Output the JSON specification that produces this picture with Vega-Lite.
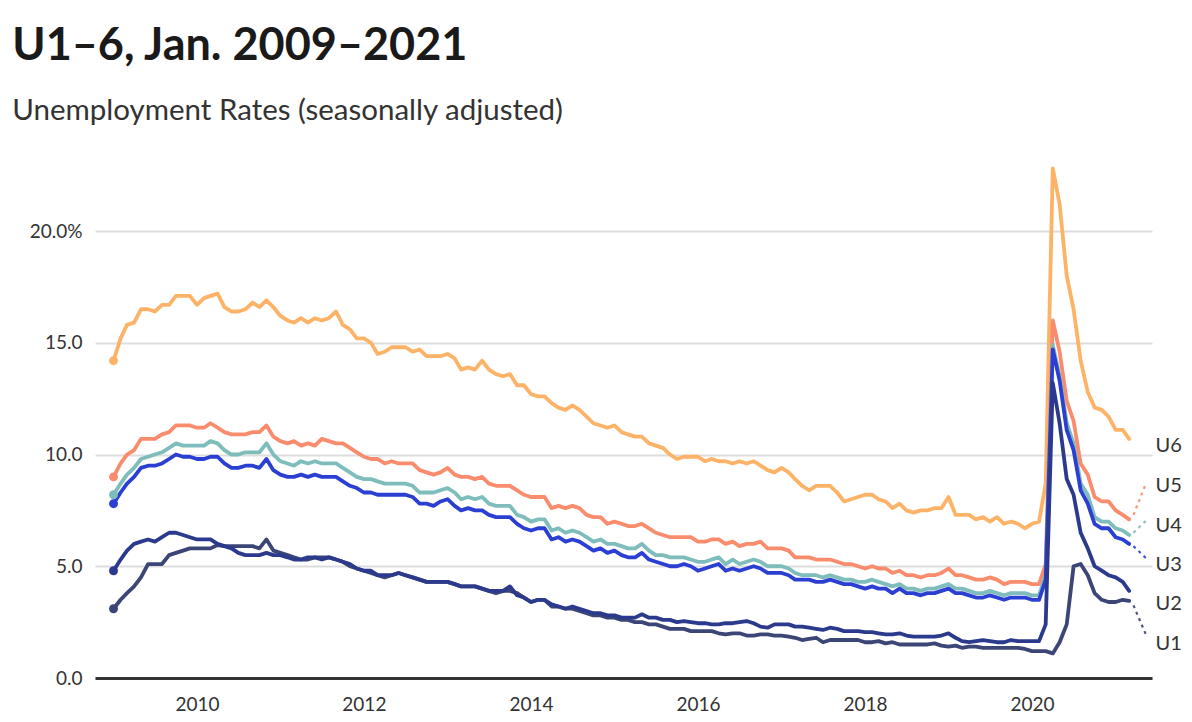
{
  "$schema": "https://vega.github.io/schema/vega-lite/v6.json",
  "width": 1057,
  "height": 514,
  "autosize": {"type": "none"},
  "padding": {"left": 95, "top": 164, "right": 40, "bottom": 44},
  "background": "white",
  "title": {
    "text": "U1–6, Jan. 2009–2021",
    "subtitle": "Unemployment Rates (seasonally adjusted)",
    "anchor": "start",
    "frame": "bounds",
    "dx": -17,
    "font": "Lato",
    "fontSize": 45,
    "fontWeight": "bold",
    "color": "#1a1a1a",
    "subtitleFont": "Lato",
    "subtitleFontSize": 29.5,
    "subtitleColor": "#333333",
    "subtitlePadding": 28,
    "offset": 39
  },
  "config": {
    "view": {"stroke": null},
    "axis": {"labelFont": "Lato", "labelFontSize": 19, "labelColor": "#333333", "titleFont": "Lato"}
  },
  "datasets": {
    "series": [
      {"s":"U6","d":"2009-01","v":14.2},{"s":"U6","d":"2009-02","v":15.2},{"s":"U6","d":"2009-03","v":15.8},{"s":"U6","d":"2009-04","v":15.9},{"s":"U6","d":"2009-05","v":16.5},{"s":"U6","d":"2009-06","v":16.5},{"s":"U6","d":"2009-07","v":16.4},{"s":"U6","d":"2009-08","v":16.7},{"s":"U6","d":"2009-09","v":16.7},{"s":"U6","d":"2009-10","v":17.1},{"s":"U6","d":"2009-11","v":17.1},{"s":"U6","d":"2009-12","v":17.1},
      {"s":"U6","d":"2010-01","v":16.7},{"s":"U6","d":"2010-02","v":17.0},{"s":"U6","d":"2010-03","v":17.1},{"s":"U6","d":"2010-04","v":17.2},{"s":"U6","d":"2010-05","v":16.6},{"s":"U6","d":"2010-06","v":16.4},{"s":"U6","d":"2010-07","v":16.4},{"s":"U6","d":"2010-08","v":16.5},{"s":"U6","d":"2010-09","v":16.8},{"s":"U6","d":"2010-10","v":16.6},{"s":"U6","d":"2010-11","v":16.9},{"s":"U6","d":"2010-12","v":16.6},
      {"s":"U6","d":"2011-01","v":16.2},{"s":"U6","d":"2011-02","v":16.0},{"s":"U6","d":"2011-03","v":15.9},{"s":"U6","d":"2011-04","v":16.1},{"s":"U6","d":"2011-05","v":15.9},{"s":"U6","d":"2011-06","v":16.1},{"s":"U6","d":"2011-07","v":16.0},{"s":"U6","d":"2011-08","v":16.1},{"s":"U6","d":"2011-09","v":16.4},{"s":"U6","d":"2011-10","v":15.8},{"s":"U6","d":"2011-11","v":15.6},{"s":"U6","d":"2011-12","v":15.2},
      {"s":"U6","d":"2012-01","v":15.2},{"s":"U6","d":"2012-02","v":15.0},{"s":"U6","d":"2012-03","v":14.5},{"s":"U6","d":"2012-04","v":14.6},{"s":"U6","d":"2012-05","v":14.8},{"s":"U6","d":"2012-06","v":14.8},{"s":"U6","d":"2012-07","v":14.8},{"s":"U6","d":"2012-08","v":14.6},{"s":"U6","d":"2012-09","v":14.7},{"s":"U6","d":"2012-10","v":14.4},{"s":"U6","d":"2012-11","v":14.4},{"s":"U6","d":"2012-12","v":14.4},
      {"s":"U6","d":"2013-01","v":14.5},{"s":"U6","d":"2013-02","v":14.3},{"s":"U6","d":"2013-03","v":13.8},{"s":"U6","d":"2013-04","v":13.9},{"s":"U6","d":"2013-05","v":13.8},{"s":"U6","d":"2013-06","v":14.2},{"s":"U6","d":"2013-07","v":13.8},{"s":"U6","d":"2013-08","v":13.6},{"s":"U6","d":"2013-09","v":13.5},{"s":"U6","d":"2013-10","v":13.6},{"s":"U6","d":"2013-11","v":13.1},{"s":"U6","d":"2013-12","v":13.1},
      {"s":"U6","d":"2014-01","v":12.7},{"s":"U6","d":"2014-02","v":12.6},{"s":"U6","d":"2014-03","v":12.6},{"s":"U6","d":"2014-04","v":12.3},{"s":"U6","d":"2014-05","v":12.1},{"s":"U6","d":"2014-06","v":12.0},{"s":"U6","d":"2014-07","v":12.2},{"s":"U6","d":"2014-08","v":12.0},{"s":"U6","d":"2014-09","v":11.7},{"s":"U6","d":"2014-10","v":11.4},{"s":"U6","d":"2014-11","v":11.3},{"s":"U6","d":"2014-12","v":11.2},
      {"s":"U6","d":"2015-01","v":11.3},{"s":"U6","d":"2015-02","v":11.0},{"s":"U6","d":"2015-03","v":10.9},{"s":"U6","d":"2015-04","v":10.8},{"s":"U6","d":"2015-05","v":10.8},{"s":"U6","d":"2015-06","v":10.5},{"s":"U6","d":"2015-07","v":10.4},{"s":"U6","d":"2015-08","v":10.3},{"s":"U6","d":"2015-09","v":10.0},{"s":"U6","d":"2015-10","v":9.8},{"s":"U6","d":"2015-11","v":9.9},{"s":"U6","d":"2015-12","v":9.9},
      {"s":"U6","d":"2016-01","v":9.9},{"s":"U6","d":"2016-02","v":9.7},{"s":"U6","d":"2016-03","v":9.8},{"s":"U6","d":"2016-04","v":9.7},{"s":"U6","d":"2016-05","v":9.7},{"s":"U6","d":"2016-06","v":9.6},{"s":"U6","d":"2016-07","v":9.7},{"s":"U6","d":"2016-08","v":9.6},{"s":"U6","d":"2016-09","v":9.7},{"s":"U6","d":"2016-10","v":9.5},{"s":"U6","d":"2016-11","v":9.3},{"s":"U6","d":"2016-12","v":9.2},
      {"s":"U6","d":"2017-01","v":9.4},{"s":"U6","d":"2017-02","v":9.2},{"s":"U6","d":"2017-03","v":8.9},{"s":"U6","d":"2017-04","v":8.6},{"s":"U6","d":"2017-05","v":8.4},{"s":"U6","d":"2017-06","v":8.6},{"s":"U6","d":"2017-07","v":8.6},{"s":"U6","d":"2017-08","v":8.6},{"s":"U6","d":"2017-09","v":8.3},{"s":"U6","d":"2017-10","v":7.9},{"s":"U6","d":"2017-11","v":8.0},{"s":"U6","d":"2017-12","v":8.1},
      {"s":"U6","d":"2018-01","v":8.2},{"s":"U6","d":"2018-02","v":8.2},{"s":"U6","d":"2018-03","v":8.0},{"s":"U6","d":"2018-04","v":7.9},{"s":"U6","d":"2018-05","v":7.6},{"s":"U6","d":"2018-06","v":7.8},{"s":"U6","d":"2018-07","v":7.5},{"s":"U6","d":"2018-08","v":7.4},{"s":"U6","d":"2018-09","v":7.5},{"s":"U6","d":"2018-10","v":7.5},{"s":"U6","d":"2018-11","v":7.6},{"s":"U6","d":"2018-12","v":7.6},
      {"s":"U6","d":"2019-01","v":8.1},{"s":"U6","d":"2019-02","v":7.3},{"s":"U6","d":"2019-03","v":7.3},{"s":"U6","d":"2019-04","v":7.3},{"s":"U6","d":"2019-05","v":7.1},{"s":"U6","d":"2019-06","v":7.2},{"s":"U6","d":"2019-07","v":7.0},{"s":"U6","d":"2019-08","v":7.2},{"s":"U6","d":"2019-09","v":6.9},{"s":"U6","d":"2019-10","v":7.0},{"s":"U6","d":"2019-11","v":6.9},{"s":"U6","d":"2019-12","v":6.7},
      {"s":"U6","d":"2020-01","v":6.9},{"s":"U6","d":"2020-02","v":7.0},{"s":"U6","d":"2020-03","v":8.7},{"s":"U6","d":"2020-04","v":22.8},{"s":"U6","d":"2020-05","v":21.2},{"s":"U6","d":"2020-06","v":18.0},{"s":"U6","d":"2020-07","v":16.5},{"s":"U6","d":"2020-08","v":14.2},{"s":"U6","d":"2020-09","v":12.8},{"s":"U6","d":"2020-10","v":12.1},{"s":"U6","d":"2020-11","v":12.0},{"s":"U6","d":"2020-12","v":11.7},
      {"s":"U6","d":"2021-01","v":11.1},{"s":"U6","d":"2021-02","v":11.1},{"s":"U6","d":"2021-03","v":10.7},

      {"s":"U5","d":"2009-01","v":9.0},{"s":"U5","d":"2009-02","v":9.6},{"s":"U5","d":"2009-03","v":10.0},{"s":"U5","d":"2009-04","v":10.2},{"s":"U5","d":"2009-05","v":10.7},{"s":"U5","d":"2009-06","v":10.7},{"s":"U5","d":"2009-07","v":10.7},{"s":"U5","d":"2009-08","v":10.9},{"s":"U5","d":"2009-09","v":11.0},{"s":"U5","d":"2009-10","v":11.3},{"s":"U5","d":"2009-11","v":11.3},{"s":"U5","d":"2009-12","v":11.3},
      {"s":"U5","d":"2010-01","v":11.2},{"s":"U5","d":"2010-02","v":11.2},{"s":"U5","d":"2010-03","v":11.4},{"s":"U5","d":"2010-04","v":11.2},{"s":"U5","d":"2010-05","v":11.0},{"s":"U5","d":"2010-06","v":10.9},{"s":"U5","d":"2010-07","v":10.9},{"s":"U5","d":"2010-08","v":10.9},{"s":"U5","d":"2010-09","v":11.0},{"s":"U5","d":"2010-10","v":11.0},{"s":"U5","d":"2010-11","v":11.3},{"s":"U5","d":"2010-12","v":10.8},
      {"s":"U5","d":"2011-01","v":10.6},{"s":"U5","d":"2011-02","v":10.5},{"s":"U5","d":"2011-03","v":10.6},{"s":"U5","d":"2011-04","v":10.4},{"s":"U5","d":"2011-05","v":10.5},{"s":"U5","d":"2011-06","v":10.4},{"s":"U5","d":"2011-07","v":10.7},{"s":"U5","d":"2011-08","v":10.6},{"s":"U5","d":"2011-09","v":10.5},{"s":"U5","d":"2011-10","v":10.5},{"s":"U5","d":"2011-11","v":10.3},{"s":"U5","d":"2011-12","v":10.1},
      {"s":"U5","d":"2012-01","v":9.9},{"s":"U5","d":"2012-02","v":9.8},{"s":"U5","d":"2012-03","v":9.8},{"s":"U5","d":"2012-04","v":9.6},{"s":"U5","d":"2012-05","v":9.7},{"s":"U5","d":"2012-06","v":9.6},{"s":"U5","d":"2012-07","v":9.6},{"s":"U5","d":"2012-08","v":9.6},{"s":"U5","d":"2012-09","v":9.3},{"s":"U5","d":"2012-10","v":9.2},{"s":"U5","d":"2012-11","v":9.1},{"s":"U5","d":"2012-12","v":9.2},
      {"s":"U5","d":"2013-01","v":9.4},{"s":"U5","d":"2013-02","v":9.1},{"s":"U5","d":"2013-03","v":9.0},{"s":"U5","d":"2013-04","v":9.0},{"s":"U5","d":"2013-05","v":8.9},{"s":"U5","d":"2013-06","v":9.0},{"s":"U5","d":"2013-07","v":8.7},{"s":"U5","d":"2013-08","v":8.6},{"s":"U5","d":"2013-09","v":8.6},{"s":"U5","d":"2013-10","v":8.6},{"s":"U5","d":"2013-11","v":8.4},{"s":"U5","d":"2013-12","v":8.2},
      {"s":"U5","d":"2014-01","v":8.1},{"s":"U5","d":"2014-02","v":8.1},{"s":"U5","d":"2014-03","v":8.1},{"s":"U5","d":"2014-04","v":7.6},{"s":"U5","d":"2014-05","v":7.7},{"s":"U5","d":"2014-06","v":7.6},{"s":"U5","d":"2014-07","v":7.7},{"s":"U5","d":"2014-08","v":7.6},{"s":"U5","d":"2014-09","v":7.3},{"s":"U5","d":"2014-10","v":7.2},{"s":"U5","d":"2014-11","v":7.2},{"s":"U5","d":"2014-12","v":6.9},
      {"s":"U5","d":"2015-01","v":7.0},{"s":"U5","d":"2015-02","v":6.9},{"s":"U5","d":"2015-03","v":6.8},{"s":"U5","d":"2015-04","v":6.8},{"s":"U5","d":"2015-05","v":6.9},{"s":"U5","d":"2015-06","v":6.7},{"s":"U5","d":"2015-07","v":6.5},{"s":"U5","d":"2015-08","v":6.4},{"s":"U5","d":"2015-09","v":6.3},{"s":"U5","d":"2015-10","v":6.3},{"s":"U5","d":"2015-11","v":6.3},{"s":"U5","d":"2015-12","v":6.3},
      {"s":"U5","d":"2016-01","v":6.1},{"s":"U5","d":"2016-02","v":6.1},{"s":"U5","d":"2016-03","v":6.2},{"s":"U5","d":"2016-04","v":6.2},{"s":"U5","d":"2016-05","v":6.0},{"s":"U5","d":"2016-06","v":6.1},{"s":"U5","d":"2016-07","v":5.9},{"s":"U5","d":"2016-08","v":6.0},{"s":"U5","d":"2016-09","v":6.0},{"s":"U5","d":"2016-10","v":6.1},{"s":"U5","d":"2016-11","v":5.8},{"s":"U5","d":"2016-12","v":5.8},
      {"s":"U5","d":"2017-01","v":5.8},{"s":"U5","d":"2017-02","v":5.7},{"s":"U5","d":"2017-03","v":5.4},{"s":"U5","d":"2017-04","v":5.4},{"s":"U5","d":"2017-05","v":5.4},{"s":"U5","d":"2017-06","v":5.3},{"s":"U5","d":"2017-07","v":5.3},{"s":"U5","d":"2017-08","v":5.3},{"s":"U5","d":"2017-09","v":5.2},{"s":"U5","d":"2017-10","v":5.1},{"s":"U5","d":"2017-11","v":5.1},{"s":"U5","d":"2017-12","v":5.0},
      {"s":"U5","d":"2018-01","v":4.9},{"s":"U5","d":"2018-02","v":5.0},{"s":"U5","d":"2018-03","v":4.9},{"s":"U5","d":"2018-04","v":4.9},{"s":"U5","d":"2018-05","v":4.7},{"s":"U5","d":"2018-06","v":4.8},{"s":"U5","d":"2018-07","v":4.6},{"s":"U5","d":"2018-08","v":4.6},{"s":"U5","d":"2018-09","v":4.5},{"s":"U5","d":"2018-10","v":4.6},{"s":"U5","d":"2018-11","v":4.6},{"s":"U5","d":"2018-12","v":4.7},
      {"s":"U5","d":"2019-01","v":4.9},{"s":"U5","d":"2019-02","v":4.6},{"s":"U5","d":"2019-03","v":4.6},{"s":"U5","d":"2019-04","v":4.5},{"s":"U5","d":"2019-05","v":4.4},{"s":"U5","d":"2019-06","v":4.4},{"s":"U5","d":"2019-07","v":4.5},{"s":"U5","d":"2019-08","v":4.4},{"s":"U5","d":"2019-09","v":4.2},{"s":"U5","d":"2019-10","v":4.3},{"s":"U5","d":"2019-11","v":4.3},{"s":"U5","d":"2019-12","v":4.3},
      {"s":"U5","d":"2020-01","v":4.2},{"s":"U5","d":"2020-02","v":4.2},{"s":"U5","d":"2020-03","v":5.1},{"s":"U5","d":"2020-04","v":16.0},{"s":"U5","d":"2020-05","v":14.6},{"s":"U5","d":"2020-06","v":12.4},{"s":"U5","d":"2020-07","v":11.5},{"s":"U5","d":"2020-08","v":9.6},{"s":"U5","d":"2020-09","v":9.1},{"s":"U5","d":"2020-10","v":8.1},{"s":"U5","d":"2020-11","v":7.9},{"s":"U5","d":"2020-12","v":7.9},
      {"s":"U5","d":"2021-01","v":7.5},{"s":"U5","d":"2021-02","v":7.3},{"s":"U5","d":"2021-03","v":7.1},

      {"s":"U4","d":"2009-01","v":8.2},{"s":"U4","d":"2009-02","v":8.7},{"s":"U4","d":"2009-03","v":9.1},{"s":"U4","d":"2009-04","v":9.4},{"s":"U4","d":"2009-05","v":9.8},{"s":"U4","d":"2009-06","v":9.9},{"s":"U4","d":"2009-07","v":10.0},{"s":"U4","d":"2009-08","v":10.1},{"s":"U4","d":"2009-09","v":10.3},{"s":"U4","d":"2009-10","v":10.5},{"s":"U4","d":"2009-11","v":10.4},{"s":"U4","d":"2009-12","v":10.4},
      {"s":"U4","d":"2010-01","v":10.4},{"s":"U4","d":"2010-02","v":10.4},{"s":"U4","d":"2010-03","v":10.6},{"s":"U4","d":"2010-04","v":10.5},{"s":"U4","d":"2010-05","v":10.2},{"s":"U4","d":"2010-06","v":10.0},{"s":"U4","d":"2010-07","v":10.0},{"s":"U4","d":"2010-08","v":10.1},{"s":"U4","d":"2010-09","v":10.1},{"s":"U4","d":"2010-10","v":10.1},{"s":"U4","d":"2010-11","v":10.5},{"s":"U4","d":"2010-12","v":10.0},
      {"s":"U4","d":"2011-01","v":9.7},{"s":"U4","d":"2011-02","v":9.6},{"s":"U4","d":"2011-03","v":9.5},{"s":"U4","d":"2011-04","v":9.7},{"s":"U4","d":"2011-05","v":9.6},{"s":"U4","d":"2011-06","v":9.7},{"s":"U4","d":"2011-07","v":9.6},{"s":"U4","d":"2011-08","v":9.6},{"s":"U4","d":"2011-09","v":9.6},{"s":"U4","d":"2011-10","v":9.4},{"s":"U4","d":"2011-11","v":9.2},{"s":"U4","d":"2011-12","v":9.0},
      {"s":"U4","d":"2012-01","v":8.9},{"s":"U4","d":"2012-02","v":8.9},{"s":"U4","d":"2012-03","v":8.8},{"s":"U4","d":"2012-04","v":8.7},{"s":"U4","d":"2012-05","v":8.7},{"s":"U4","d":"2012-06","v":8.7},{"s":"U4","d":"2012-07","v":8.7},{"s":"U4","d":"2012-08","v":8.6},{"s":"U4","d":"2012-09","v":8.3},{"s":"U4","d":"2012-10","v":8.3},{"s":"U4","d":"2012-11","v":8.3},{"s":"U4","d":"2012-12","v":8.4},
      {"s":"U4","d":"2013-01","v":8.5},{"s":"U4","d":"2013-02","v":8.3},{"s":"U4","d":"2013-03","v":8.0},{"s":"U4","d":"2013-04","v":8.1},{"s":"U4","d":"2013-05","v":8.0},{"s":"U4","d":"2013-06","v":8.1},{"s":"U4","d":"2013-07","v":7.8},{"s":"U4","d":"2013-08","v":7.7},{"s":"U4","d":"2013-09","v":7.7},{"s":"U4","d":"2013-10","v":7.7},{"s":"U4","d":"2013-11","v":7.3},{"s":"U4","d":"2013-12","v":7.2},
      {"s":"U4","d":"2014-01","v":7.0},{"s":"U4","d":"2014-02","v":7.1},{"s":"U4","d":"2014-03","v":7.1},{"s":"U4","d":"2014-04","v":6.6},{"s":"U4","d":"2014-05","v":6.7},{"s":"U4","d":"2014-06","v":6.5},{"s":"U4","d":"2014-07","v":6.6},{"s":"U4","d":"2014-08","v":6.5},{"s":"U4","d":"2014-09","v":6.3},{"s":"U4","d":"2014-10","v":6.1},{"s":"U4","d":"2014-11","v":6.2},{"s":"U4","d":"2014-12","v":6.0},
      {"s":"U4","d":"2015-01","v":6.0},{"s":"U4","d":"2015-02","v":5.9},{"s":"U4","d":"2015-03","v":5.8},{"s":"U4","d":"2015-04","v":5.8},{"s":"U4","d":"2015-05","v":6.0},{"s":"U4","d":"2015-06","v":5.7},{"s":"U4","d":"2015-07","v":5.5},{"s":"U4","d":"2015-08","v":5.5},{"s":"U4","d":"2015-09","v":5.4},{"s":"U4","d":"2015-10","v":5.4},{"s":"U4","d":"2015-11","v":5.4},{"s":"U4","d":"2015-12","v":5.3},
      {"s":"U4","d":"2016-01","v":5.2},{"s":"U4","d":"2016-02","v":5.2},{"s":"U4","d":"2016-03","v":5.3},{"s":"U4","d":"2016-04","v":5.4},{"s":"U4","d":"2016-05","v":5.1},{"s":"U4","d":"2016-06","v":5.3},{"s":"U4","d":"2016-07","v":5.1},{"s":"U4","d":"2016-08","v":5.2},{"s":"U4","d":"2016-09","v":5.3},{"s":"U4","d":"2016-10","v":5.2},{"s":"U4","d":"2016-11","v":5.0},{"s":"U4","d":"2016-12","v":5.0},
      {"s":"U4","d":"2017-01","v":5.0},{"s":"U4","d":"2017-02","v":4.9},{"s":"U4","d":"2017-03","v":4.7},{"s":"U4","d":"2017-04","v":4.6},{"s":"U4","d":"2017-05","v":4.6},{"s":"U4","d":"2017-06","v":4.6},{"s":"U4","d":"2017-07","v":4.5},{"s":"U4","d":"2017-08","v":4.6},{"s":"U4","d":"2017-09","v":4.5},{"s":"U4","d":"2017-10","v":4.4},{"s":"U4","d":"2017-11","v":4.4},{"s":"U4","d":"2017-12","v":4.3},
      {"s":"U4","d":"2018-01","v":4.3},{"s":"U4","d":"2018-02","v":4.4},{"s":"U4","d":"2018-03","v":4.3},{"s":"U4","d":"2018-04","v":4.2},{"s":"U4","d":"2018-05","v":4.1},{"s":"U4","d":"2018-06","v":4.2},{"s":"U4","d":"2018-07","v":4.0},{"s":"U4","d":"2018-08","v":4.0},{"s":"U4","d":"2018-09","v":3.9},{"s":"U4","d":"2018-10","v":4.0},{"s":"U4","d":"2018-11","v":4.0},{"s":"U4","d":"2018-12","v":4.1},
      {"s":"U4","d":"2019-01","v":4.2},{"s":"U4","d":"2019-02","v":4.0},{"s":"U4","d":"2019-03","v":4.0},{"s":"U4","d":"2019-04","v":3.9},{"s":"U4","d":"2019-05","v":3.8},{"s":"U4","d":"2019-06","v":3.8},{"s":"U4","d":"2019-07","v":3.9},{"s":"U4","d":"2019-08","v":3.8},{"s":"U4","d":"2019-09","v":3.7},{"s":"U4","d":"2019-10","v":3.8},{"s":"U4","d":"2019-11","v":3.8},{"s":"U4","d":"2019-12","v":3.8},
      {"s":"U4","d":"2020-01","v":3.7},{"s":"U4","d":"2020-02","v":3.7},{"s":"U4","d":"2020-03","v":4.6},{"s":"U4","d":"2020-04","v":14.9},{"s":"U4","d":"2020-05","v":13.5},{"s":"U4","d":"2020-06","v":11.4},{"s":"U4","d":"2020-07","v":10.5},{"s":"U4","d":"2020-08","v":8.7},{"s":"U4","d":"2020-09","v":8.2},{"s":"U4","d":"2020-10","v":7.2},{"s":"U4","d":"2020-11","v":7.0},{"s":"U4","d":"2020-12","v":7.0},
      {"s":"U4","d":"2021-01","v":6.7},{"s":"U4","d":"2021-02","v":6.6},{"s":"U4","d":"2021-03","v":6.4},

      {"s":"U3","d":"2009-01","v":7.8},{"s":"U3","d":"2009-02","v":8.3},{"s":"U3","d":"2009-03","v":8.7},{"s":"U3","d":"2009-04","v":9.0},{"s":"U3","d":"2009-05","v":9.4},{"s":"U3","d":"2009-06","v":9.5},{"s":"U3","d":"2009-07","v":9.5},{"s":"U3","d":"2009-08","v":9.6},{"s":"U3","d":"2009-09","v":9.8},{"s":"U3","d":"2009-10","v":10.0},{"s":"U3","d":"2009-11","v":9.9},{"s":"U3","d":"2009-12","v":9.9},
      {"s":"U3","d":"2010-01","v":9.8},{"s":"U3","d":"2010-02","v":9.8},{"s":"U3","d":"2010-03","v":9.9},{"s":"U3","d":"2010-04","v":9.9},{"s":"U3","d":"2010-05","v":9.6},{"s":"U3","d":"2010-06","v":9.4},{"s":"U3","d":"2010-07","v":9.4},{"s":"U3","d":"2010-08","v":9.5},{"s":"U3","d":"2010-09","v":9.5},{"s":"U3","d":"2010-10","v":9.4},{"s":"U3","d":"2010-11","v":9.8},{"s":"U3","d":"2010-12","v":9.3},
      {"s":"U3","d":"2011-01","v":9.1},{"s":"U3","d":"2011-02","v":9.0},{"s":"U3","d":"2011-03","v":9.0},{"s":"U3","d":"2011-04","v":9.1},{"s":"U3","d":"2011-05","v":9.0},{"s":"U3","d":"2011-06","v":9.1},{"s":"U3","d":"2011-07","v":9.0},{"s":"U3","d":"2011-08","v":9.0},{"s":"U3","d":"2011-09","v":9.0},{"s":"U3","d":"2011-10","v":8.8},{"s":"U3","d":"2011-11","v":8.6},{"s":"U3","d":"2011-12","v":8.5},
      {"s":"U3","d":"2012-01","v":8.3},{"s":"U3","d":"2012-02","v":8.3},{"s":"U3","d":"2012-03","v":8.2},{"s":"U3","d":"2012-04","v":8.2},{"s":"U3","d":"2012-05","v":8.2},{"s":"U3","d":"2012-06","v":8.2},{"s":"U3","d":"2012-07","v":8.2},{"s":"U3","d":"2012-08","v":8.1},{"s":"U3","d":"2012-09","v":7.8},{"s":"U3","d":"2012-10","v":7.8},{"s":"U3","d":"2012-11","v":7.7},{"s":"U3","d":"2012-12","v":7.9},
      {"s":"U3","d":"2013-01","v":8.0},{"s":"U3","d":"2013-02","v":7.7},{"s":"U3","d":"2013-03","v":7.5},{"s":"U3","d":"2013-04","v":7.6},{"s":"U3","d":"2013-05","v":7.5},{"s":"U3","d":"2013-06","v":7.5},{"s":"U3","d":"2013-07","v":7.3},{"s":"U3","d":"2013-08","v":7.2},{"s":"U3","d":"2013-09","v":7.2},{"s":"U3","d":"2013-10","v":7.2},{"s":"U3","d":"2013-11","v":6.9},{"s":"U3","d":"2013-12","v":6.7},
      {"s":"U3","d":"2014-01","v":6.6},{"s":"U3","d":"2014-02","v":6.7},{"s":"U3","d":"2014-03","v":6.7},{"s":"U3","d":"2014-04","v":6.2},{"s":"U3","d":"2014-05","v":6.3},{"s":"U3","d":"2014-06","v":6.1},{"s":"U3","d":"2014-07","v":6.2},{"s":"U3","d":"2014-08","v":6.1},{"s":"U3","d":"2014-09","v":5.9},{"s":"U3","d":"2014-10","v":5.7},{"s":"U3","d":"2014-11","v":5.8},{"s":"U3","d":"2014-12","v":5.6},
      {"s":"U3","d":"2015-01","v":5.7},{"s":"U3","d":"2015-02","v":5.5},{"s":"U3","d":"2015-03","v":5.4},{"s":"U3","d":"2015-04","v":5.4},{"s":"U3","d":"2015-05","v":5.6},{"s":"U3","d":"2015-06","v":5.3},{"s":"U3","d":"2015-07","v":5.2},{"s":"U3","d":"2015-08","v":5.1},{"s":"U3","d":"2015-09","v":5.0},{"s":"U3","d":"2015-10","v":5.0},{"s":"U3","d":"2015-11","v":5.1},{"s":"U3","d":"2015-12","v":5.0},
      {"s":"U3","d":"2016-01","v":4.8},{"s":"U3","d":"2016-02","v":4.9},{"s":"U3","d":"2016-03","v":5.0},{"s":"U3","d":"2016-04","v":5.1},{"s":"U3","d":"2016-05","v":4.8},{"s":"U3","d":"2016-06","v":4.9},{"s":"U3","d":"2016-07","v":4.8},{"s":"U3","d":"2016-08","v":4.9},{"s":"U3","d":"2016-09","v":5.0},{"s":"U3","d":"2016-10","v":4.9},{"s":"U3","d":"2016-11","v":4.7},{"s":"U3","d":"2016-12","v":4.7},
      {"s":"U3","d":"2017-01","v":4.7},{"s":"U3","d":"2017-02","v":4.6},{"s":"U3","d":"2017-03","v":4.4},{"s":"U3","d":"2017-04","v":4.4},{"s":"U3","d":"2017-05","v":4.4},{"s":"U3","d":"2017-06","v":4.3},{"s":"U3","d":"2017-07","v":4.3},{"s":"U3","d":"2017-08","v":4.4},{"s":"U3","d":"2017-09","v":4.3},{"s":"U3","d":"2017-10","v":4.2},{"s":"U3","d":"2017-11","v":4.2},{"s":"U3","d":"2017-12","v":4.1},
      {"s":"U3","d":"2018-01","v":4.0},{"s":"U3","d":"2018-02","v":4.1},{"s":"U3","d":"2018-03","v":4.0},{"s":"U3","d":"2018-04","v":4.0},{"s":"U3","d":"2018-05","v":3.8},{"s":"U3","d":"2018-06","v":4.0},{"s":"U3","d":"2018-07","v":3.8},{"s":"U3","d":"2018-08","v":3.8},{"s":"U3","d":"2018-09","v":3.7},{"s":"U3","d":"2018-10","v":3.8},{"s":"U3","d":"2018-11","v":3.8},{"s":"U3","d":"2018-12","v":3.9},
      {"s":"U3","d":"2019-01","v":4.0},{"s":"U3","d":"2019-02","v":3.8},{"s":"U3","d":"2019-03","v":3.8},{"s":"U3","d":"2019-04","v":3.7},{"s":"U3","d":"2019-05","v":3.6},{"s":"U3","d":"2019-06","v":3.6},{"s":"U3","d":"2019-07","v":3.7},{"s":"U3","d":"2019-08","v":3.6},{"s":"U3","d":"2019-09","v":3.5},{"s":"U3","d":"2019-10","v":3.6},{"s":"U3","d":"2019-11","v":3.6},{"s":"U3","d":"2019-12","v":3.6},
      {"s":"U3","d":"2020-01","v":3.5},{"s":"U3","d":"2020-02","v":3.5},{"s":"U3","d":"2020-03","v":4.4},{"s":"U3","d":"2020-04","v":14.7},{"s":"U3","d":"2020-05","v":13.3},{"s":"U3","d":"2020-06","v":11.1},{"s":"U3","d":"2020-07","v":10.2},{"s":"U3","d":"2020-08","v":8.4},{"s":"U3","d":"2020-09","v":7.8},{"s":"U3","d":"2020-10","v":6.9},{"s":"U3","d":"2020-11","v":6.7},{"s":"U3","d":"2020-12","v":6.7},
      {"s":"U3","d":"2021-01","v":6.3},{"s":"U3","d":"2021-02","v":6.2},{"s":"U3","d":"2021-03","v":6.0},

      {"s":"U1","d":"2009-01","v":3.1},{"s":"U1","d":"2009-02","v":3.5},{"s":"U1","d":"2009-03","v":3.8},{"s":"U1","d":"2009-04","v":4.1},{"s":"U1","d":"2009-05","v":4.5},{"s":"U1","d":"2009-06","v":5.1},{"s":"U1","d":"2009-07","v":5.1},{"s":"U1","d":"2009-08","v":5.1},{"s":"U1","d":"2009-09","v":5.5},{"s":"U1","d":"2009-10","v":5.6},{"s":"U1","d":"2009-11","v":5.7},{"s":"U1","d":"2009-12","v":5.8},
      {"s":"U1","d":"2010-01","v":5.8},{"s":"U1","d":"2010-02","v":5.8},{"s":"U1","d":"2010-03","v":5.8},{"s":"U1","d":"2010-04","v":5.95},{"s":"U1","d":"2010-05","v":5.9},{"s":"U1","d":"2010-06","v":5.9},{"s":"U1","d":"2010-07","v":5.9},{"s":"U1","d":"2010-08","v":5.9},{"s":"U1","d":"2010-09","v":5.9},{"s":"U1","d":"2010-10","v":5.8},{"s":"U1","d":"2010-11","v":6.2},{"s":"U1","d":"2010-12","v":5.7},
      {"s":"U1","d":"2011-01","v":5.6},{"s":"U1","d":"2011-02","v":5.5},{"s":"U1","d":"2011-03","v":5.4},{"s":"U1","d":"2011-04","v":5.3},{"s":"U1","d":"2011-05","v":5.3},{"s":"U1","d":"2011-06","v":5.4},{"s":"U1","d":"2011-07","v":5.4},{"s":"U1","d":"2011-08","v":5.4},{"s":"U1","d":"2011-09","v":5.3},{"s":"U1","d":"2011-10","v":5.2},{"s":"U1","d":"2011-11","v":5.0},{"s":"U1","d":"2011-12","v":4.9},
      {"s":"U1","d":"2012-01","v":4.8},{"s":"U1","d":"2012-02","v":4.7},{"s":"U1","d":"2012-03","v":4.6},{"s":"U1","d":"2012-04","v":4.5},{"s":"U1","d":"2012-05","v":4.6},{"s":"U1","d":"2012-06","v":4.7},{"s":"U1","d":"2012-07","v":4.6},{"s":"U1","d":"2012-08","v":4.5},{"s":"U1","d":"2012-09","v":4.4},{"s":"U1","d":"2012-10","v":4.3},{"s":"U1","d":"2012-11","v":4.3},{"s":"U1","d":"2012-12","v":4.3},
      {"s":"U1","d":"2013-01","v":4.3},{"s":"U1","d":"2013-02","v":4.2},{"s":"U1","d":"2013-03","v":4.1},{"s":"U1","d":"2013-04","v":4.1},{"s":"U1","d":"2013-05","v":4.1},{"s":"U1","d":"2013-06","v":4.0},{"s":"U1","d":"2013-07","v":3.9},{"s":"U1","d":"2013-08","v":3.8},{"s":"U1","d":"2013-09","v":3.9},{"s":"U1","d":"2013-10","v":3.9},{"s":"U1","d":"2013-11","v":3.8},{"s":"U1","d":"2013-12","v":3.6},
      {"s":"U1","d":"2014-01","v":3.4},{"s":"U1","d":"2014-02","v":3.5},{"s":"U1","d":"2014-03","v":3.5},{"s":"U1","d":"2014-04","v":3.2},{"s":"U1","d":"2014-05","v":3.2},{"s":"U1","d":"2014-06","v":3.1},{"s":"U1","d":"2014-07","v":3.1},{"s":"U1","d":"2014-08","v":3.0},{"s":"U1","d":"2014-09","v":2.9},{"s":"U1","d":"2014-10","v":2.8},{"s":"U1","d":"2014-11","v":2.8},{"s":"U1","d":"2014-12","v":2.7},
      {"s":"U1","d":"2015-01","v":2.7},{"s":"U1","d":"2015-02","v":2.6},{"s":"U1","d":"2015-03","v":2.6},{"s":"U1","d":"2015-04","v":2.5},{"s":"U1","d":"2015-05","v":2.5},{"s":"U1","d":"2015-06","v":2.4},{"s":"U1","d":"2015-07","v":2.4},{"s":"U1","d":"2015-08","v":2.3},{"s":"U1","d":"2015-09","v":2.2},{"s":"U1","d":"2015-10","v":2.2},{"s":"U1","d":"2015-11","v":2.2},{"s":"U1","d":"2015-12","v":2.1},
      {"s":"U1","d":"2016-01","v":2.1},{"s":"U1","d":"2016-02","v":2.1},{"s":"U1","d":"2016-03","v":2.1},{"s":"U1","d":"2016-04","v":2.0},{"s":"U1","d":"2016-05","v":1.95},{"s":"U1","d":"2016-06","v":2.0},{"s":"U1","d":"2016-07","v":2.0},{"s":"U1","d":"2016-08","v":1.9},{"s":"U1","d":"2016-09","v":1.9},{"s":"U1","d":"2016-10","v":1.95},{"s":"U1","d":"2016-11","v":1.95},{"s":"U1","d":"2016-12","v":1.9},
      {"s":"U1","d":"2017-01","v":1.9},{"s":"U1","d":"2017-02","v":1.85},{"s":"U1","d":"2017-03","v":1.8},{"s":"U1","d":"2017-04","v":1.7},{"s":"U1","d":"2017-05","v":1.75},{"s":"U1","d":"2017-06","v":1.8},{"s":"U1","d":"2017-07","v":1.6},{"s":"U1","d":"2017-08","v":1.7},{"s":"U1","d":"2017-09","v":1.7},{"s":"U1","d":"2017-10","v":1.7},{"s":"U1","d":"2017-11","v":1.7},{"s":"U1","d":"2017-12","v":1.7},
      {"s":"U1","d":"2018-01","v":1.6},{"s":"U1","d":"2018-02","v":1.6},{"s":"U1","d":"2018-03","v":1.65},{"s":"U1","d":"2018-04","v":1.55},{"s":"U1","d":"2018-05","v":1.6},{"s":"U1","d":"2018-06","v":1.5},{"s":"U1","d":"2018-07","v":1.5},{"s":"U1","d":"2018-08","v":1.5},{"s":"U1","d":"2018-09","v":1.5},{"s":"U1","d":"2018-10","v":1.5},{"s":"U1","d":"2018-11","v":1.55},{"s":"U1","d":"2018-12","v":1.45},
      {"s":"U1","d":"2019-01","v":1.4},{"s":"U1","d":"2019-02","v":1.45},{"s":"U1","d":"2019-03","v":1.35},{"s":"U1","d":"2019-04","v":1.4},{"s":"U1","d":"2019-05","v":1.4},{"s":"U1","d":"2019-06","v":1.35},{"s":"U1","d":"2019-07","v":1.35},{"s":"U1","d":"2019-08","v":1.35},{"s":"U1","d":"2019-09","v":1.35},{"s":"U1","d":"2019-10","v":1.35},{"s":"U1","d":"2019-11","v":1.35},{"s":"U1","d":"2019-12","v":1.3},
      {"s":"U1","d":"2020-01","v":1.2},{"s":"U1","d":"2020-02","v":1.2},{"s":"U1","d":"2020-03","v":1.2},{"s":"U1","d":"2020-04","v":1.1},{"s":"U1","d":"2020-05","v":1.6},{"s":"U1","d":"2020-06","v":2.4},{"s":"U1","d":"2020-07","v":5.0},{"s":"U1","d":"2020-08","v":5.1},{"s":"U1","d":"2020-09","v":4.6},{"s":"U1","d":"2020-10","v":3.8},{"s":"U1","d":"2020-11","v":3.5},{"s":"U1","d":"2020-12","v":3.4},
      {"s":"U1","d":"2021-01","v":3.4},{"s":"U1","d":"2021-02","v":3.5},{"s":"U1","d":"2021-03","v":3.45},

      {"s":"U2","d":"2009-01","v":4.8},{"s":"U2","d":"2009-02","v":5.3},{"s":"U2","d":"2009-03","v":5.7},{"s":"U2","d":"2009-04","v":6.0},{"s":"U2","d":"2009-05","v":6.1},{"s":"U2","d":"2009-06","v":6.2},{"s":"U2","d":"2009-07","v":6.1},{"s":"U2","d":"2009-08","v":6.3},{"s":"U2","d":"2009-09","v":6.5},{"s":"U2","d":"2009-10","v":6.5},{"s":"U2","d":"2009-11","v":6.4},{"s":"U2","d":"2009-12","v":6.3},
      {"s":"U2","d":"2010-01","v":6.2},{"s":"U2","d":"2010-02","v":6.2},{"s":"U2","d":"2010-03","v":6.2},{"s":"U2","d":"2010-04","v":6.0},{"s":"U2","d":"2010-05","v":5.9},{"s":"U2","d":"2010-06","v":5.8},{"s":"U2","d":"2010-07","v":5.6},{"s":"U2","d":"2010-08","v":5.5},{"s":"U2","d":"2010-09","v":5.5},{"s":"U2","d":"2010-10","v":5.5},{"s":"U2","d":"2010-11","v":5.6},{"s":"U2","d":"2010-12","v":5.5},
      {"s":"U2","d":"2011-01","v":5.5},{"s":"U2","d":"2011-02","v":5.4},{"s":"U2","d":"2011-03","v":5.3},{"s":"U2","d":"2011-04","v":5.3},{"s":"U2","d":"2011-05","v":5.4},{"s":"U2","d":"2011-06","v":5.4},{"s":"U2","d":"2011-07","v":5.3},{"s":"U2","d":"2011-08","v":5.4},{"s":"U2","d":"2011-09","v":5.3},{"s":"U2","d":"2011-10","v":5.2},{"s":"U2","d":"2011-11","v":5.1},{"s":"U2","d":"2011-12","v":4.9},
      {"s":"U2","d":"2012-01","v":4.8},{"s":"U2","d":"2012-02","v":4.8},{"s":"U2","d":"2012-03","v":4.6},{"s":"U2","d":"2012-04","v":4.6},{"s":"U2","d":"2012-05","v":4.6},{"s":"U2","d":"2012-06","v":4.7},{"s":"U2","d":"2012-07","v":4.6},{"s":"U2","d":"2012-08","v":4.5},{"s":"U2","d":"2012-09","v":4.4},{"s":"U2","d":"2012-10","v":4.3},{"s":"U2","d":"2012-11","v":4.3},{"s":"U2","d":"2012-12","v":4.3},
      {"s":"U2","d":"2013-01","v":4.3},{"s":"U2","d":"2013-02","v":4.2},{"s":"U2","d":"2013-03","v":4.1},{"s":"U2","d":"2013-04","v":4.1},{"s":"U2","d":"2013-05","v":4.1},{"s":"U2","d":"2013-06","v":4.0},{"s":"U2","d":"2013-07","v":3.9},{"s":"U2","d":"2013-08","v":3.9},{"s":"U2","d":"2013-09","v":3.9},{"s":"U2","d":"2013-10","v":4.1},{"s":"U2","d":"2013-11","v":3.7},{"s":"U2","d":"2013-12","v":3.6},
      {"s":"U2","d":"2014-01","v":3.4},{"s":"U2","d":"2014-02","v":3.5},{"s":"U2","d":"2014-03","v":3.5},{"s":"U2","d":"2014-04","v":3.3},{"s":"U2","d":"2014-05","v":3.2},{"s":"U2","d":"2014-06","v":3.1},{"s":"U2","d":"2014-07","v":3.2},{"s":"U2","d":"2014-08","v":3.1},{"s":"U2","d":"2014-09","v":3.0},{"s":"U2","d":"2014-10","v":2.9},{"s":"U2","d":"2014-11","v":2.9},{"s":"U2","d":"2014-12","v":2.8},
      {"s":"U2","d":"2015-01","v":2.8},{"s":"U2","d":"2015-02","v":2.7},{"s":"U2","d":"2015-03","v":2.7},{"s":"U2","d":"2015-04","v":2.7},{"s":"U2","d":"2015-05","v":2.85},{"s":"U2","d":"2015-06","v":2.7},{"s":"U2","d":"2015-07","v":2.7},{"s":"U2","d":"2015-08","v":2.6},{"s":"U2","d":"2015-09","v":2.6},{"s":"U2","d":"2015-10","v":2.5},{"s":"U2","d":"2015-11","v":2.55},{"s":"U2","d":"2015-12","v":2.5},
      {"s":"U2","d":"2016-01","v":2.45},{"s":"U2","d":"2016-02","v":2.45},{"s":"U2","d":"2016-03","v":2.4},{"s":"U2","d":"2016-04","v":2.4},{"s":"U2","d":"2016-05","v":2.45},{"s":"U2","d":"2016-06","v":2.45},{"s":"U2","d":"2016-07","v":2.5},{"s":"U2","d":"2016-08","v":2.55},{"s":"U2","d":"2016-09","v":2.45},{"s":"U2","d":"2016-10","v":2.3},{"s":"U2","d":"2016-11","v":2.25},{"s":"U2","d":"2016-12","v":2.4},
      {"s":"U2","d":"2017-01","v":2.4},{"s":"U2","d":"2017-02","v":2.4},{"s":"U2","d":"2017-03","v":2.3},{"s":"U2","d":"2017-04","v":2.3},{"s":"U2","d":"2017-05","v":2.25},{"s":"U2","d":"2017-06","v":2.2},{"s":"U2","d":"2017-07","v":2.15},{"s":"U2","d":"2017-08","v":2.25},{"s":"U2","d":"2017-09","v":2.2},{"s":"U2","d":"2017-10","v":2.1},{"s":"U2","d":"2017-11","v":2.1},{"s":"U2","d":"2017-12","v":2.1},
      {"s":"U2","d":"2018-01","v":2.05},{"s":"U2","d":"2018-02","v":2.05},{"s":"U2","d":"2018-03","v":2.0},{"s":"U2","d":"2018-04","v":1.95},{"s":"U2","d":"2018-05","v":1.95},{"s":"U2","d":"2018-06","v":2.0},{"s":"U2","d":"2018-07","v":1.9},{"s":"U2","d":"2018-08","v":1.85},{"s":"U2","d":"2018-09","v":1.85},{"s":"U2","d":"2018-10","v":1.85},{"s":"U2","d":"2018-11","v":1.85},{"s":"U2","d":"2018-12","v":1.9},
      {"s":"U2","d":"2019-01","v":2.0},{"s":"U2","d":"2019-02","v":1.8},{"s":"U2","d":"2019-03","v":1.65},{"s":"U2","d":"2019-04","v":1.6},{"s":"U2","d":"2019-05","v":1.65},{"s":"U2","d":"2019-06","v":1.7},{"s":"U2","d":"2019-07","v":1.65},{"s":"U2","d":"2019-08","v":1.6},{"s":"U2","d":"2019-09","v":1.6},{"s":"U2","d":"2019-10","v":1.7},{"s":"U2","d":"2019-11","v":1.65},{"s":"U2","d":"2019-12","v":1.65},
      {"s":"U2","d":"2020-01","v":1.65},{"s":"U2","d":"2020-02","v":1.65},{"s":"U2","d":"2020-03","v":2.4},{"s":"U2","d":"2020-04","v":13.2},{"s":"U2","d":"2020-05","v":11.4},{"s":"U2","d":"2020-06","v":8.9},{"s":"U2","d":"2020-07","v":8.2},{"s":"U2","d":"2020-08","v":6.5},{"s":"U2","d":"2020-09","v":5.8},{"s":"U2","d":"2020-10","v":5.0},{"s":"U2","d":"2020-11","v":4.8},{"s":"U2","d":"2020-12","v":4.6},
      {"s":"U2","d":"2021-01","v":4.5},{"s":"U2","d":"2021-02","v":4.3},{"s":"U2","d":"2021-03","v":3.9}
    ],
    "labels": [
      {"s":"U6","d":"2021-06-24","v":10.4},
      {"s":"U5","d":"2021-06-24","v":8.6},
      {"s":"U4","d":"2021-06-24","v":6.8},
      {"s":"U3","d":"2021-06-24","v":5.05},
      {"s":"U2","d":"2021-06-24","v":3.3},
      {"s":"U1","d":"2021-06-24","v":1.5}
    ],
    "connectors": [
      {"s":"U5","d":"2021-03-20","v":7.3,"d2":"2021-05-15","v2":8.75},
      {"s":"U4","d":"2021-03-20","v":6.5,"d2":"2021-05-15","v2":7.05},
      {"s":"U3","d":"2021-03-20","v":5.9,"d2":"2021-05-15","v2":5.35},
      {"s":"U1","d":"2021-03-20","v":3.25,"d2":"2021-05-15","v2":1.9}
    ]
  },
  "encoding": {
    "x": {
      "field": "d",
      "type": "temporal",
      "scale": {"type": "utc", "domain": [{"year": 2008, "month": 10, "date": 12, "utc": true}, {"year": 2021, "month": 6, "date": 9, "utc": true}]},
      "axis": {
        "title": null,
        "format": "%Y",
        "values": [{"year": 2010, "utc": true}, {"year": 2012, "utc": true}, {"year": 2014, "utc": true}, {"year": 2016, "utc": true}, {"year": 2018, "utc": true}, {"year": 2020, "utc": true}],
        "grid": false,
        "ticks": false,
        "domain": true,
        "domainColor": "#333333",
        "domainWidth": 3,
        "labelPadding": 17,
        "labelFlush": false
      }
    },
    "y": {
      "field": "v",
      "type": "quantitative",
      "scale": {"domain": [0, 23], "nice": false, "zero": true},
      "axis": {
        "title": null,
        "values": [0, 5, 10, 15, 20],
        "labelExpr": "datum.value == 20 ? '20.0%' : format(datum.value, '.1f')",
        "domain": false,
        "ticks": false,
        "grid": true,
        "gridColor": "#dddddd",
        "gridWidth": 2,
        "labelPadding": 13,
        "labelBaseline": "middle"
      }
    },
    "color": {
      "field": "s",
      "type": "nominal",
      "legend": null,
      "scale": {
        "domain": ["U1", "U2", "U3", "U4", "U5", "U6"],
        "range": ["#3b4676", "#2c3a8d", "#2b3fd2", "#7fbcbc", "#f98c6d", "#fdb367"]
      }
    }
  },
  "layer": [
    {
      "data": {"name": "series"},
      "mark": {"type": "line", "strokeWidth": 3.8, "strokeJoin": "round", "strokeCap": "round"}
    },
    {
      "data": {"name": "series"},
      "transform": [{"filter": "time(datum.d) === utc(2009, 0, 1)"}],
      "mark": {"type": "point", "filled": true, "opacity": 1, "size": 80}
    },
    {
      "data": {"name": "connectors"},
      "mark": {"type": "rule", "strokeWidth": 2.2, "strokeDash": [3, 4], "opacity": 0.9},
      "encoding": {
        "x2": {"field": "d2"},
        "y2": {"field": "v2"}
      }
    },
    {
      "data": {"name": "labels"},
      "mark": {"type": "text", "align": "left", "baseline": "middle", "font": "Lato", "fontSize": 20},
      "encoding": {
        "text": {"field": "s"},
        "color": {"value": "#333333"}
      }
    }
  ]
}
